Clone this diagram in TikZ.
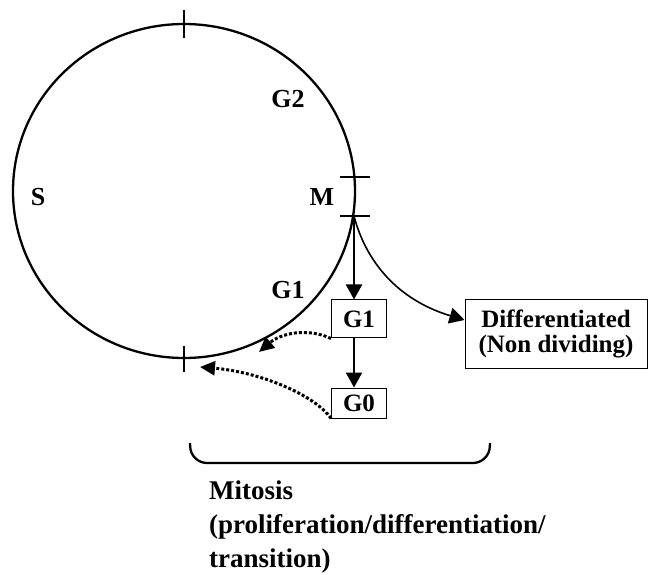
\documentclass[tikz,border=0pt]{standalone}
\usepackage{fontspec}
\setmainfont{Liberation Serif}
\usetikzlibrary{arrows.meta}

\begin{document}
\begin{tikzpicture}[x=1pt, y=-1pt, line width=2.3pt,
  phase/.style={font=\fontsize{26}{26}\selectfont\bfseries},
  stagebox/.style={draw, line width=1pt, inner sep=2pt, align=center,
    font=\fontsize{25}{25}\selectfont\bfseries},
  flow/.style={-{Triangle[length=15pt,width=16pt]}},
  back/.style={dash pattern=on 3pt off 2pt, line width=3pt,
    -{Triangle[length=15pt,width=14pt]}}]
  \useasboundingbox (0,0) rectangle (649,575);

  % the cycle
  \coordinate (O) at (184,191);
  \draw (O) ellipse [x radius=171, y radius=167];
  \draw (184,10) -- (184,38);
  \draw (184,346) -- (184,372);
  \foreach \y in {177,216}
    \draw (340,\y) -- (370,\y);
  \coordinate (mend) at (354,216);

  \node[phase] (s)  at (38,197)  {S};
  \node[phase] (g2) at (288,99)  {G2};
  \node[phase] (m)  at (322,197) {M};
  \node[phase] (g1) at (288,290) {G1};

  % states after mitosis
  \node[stagebox, minimum width=55pt, minimum height=38pt] (g1box) at (359,319) {G1};
  \node[stagebox, minimum width=55pt, minimum height=30pt] (g0box) at (359,403) {G0};
  \node[stagebox, minimum width=182pt, minimum height=68pt] (diff) at (556,334)
    {Differentiated\\(Non dividing)};

  \draw[flow] (mend) -- (mend |- g1box.north);
  \draw[flow] (g1box.south -| mend) -- (g0box.north -| mend);
  \draw[flow, line width=1.6pt] (mend) .. controls (366,262) and (398,300) .. ([yshift=14pt]diff.west);

  % back into the cycle
  \coordinate (g1in) at (259,352);
  \coordinate (g0in) at (200,367);
  \draw[back] (g1box.south west) .. controls (306,327) and (280,334) .. (g1in);
  \draw[back] (g0box.south west) .. controls (315,395) and (260,372) .. (g0in);

  % bracket and caption
  \draw[rounded corners=16pt] (190,443) -- (191,463) -- (489,463) -- (490,443);
  \node[anchor=north west, inner sep=0pt, align=left,
    font=\fontsize{27}{34}\selectfont\bfseries] (mitosis) at (208,480)
    {Mitosis\\(proliferation/differentiation/\\transition)};
\end{tikzpicture}
\end{document}
